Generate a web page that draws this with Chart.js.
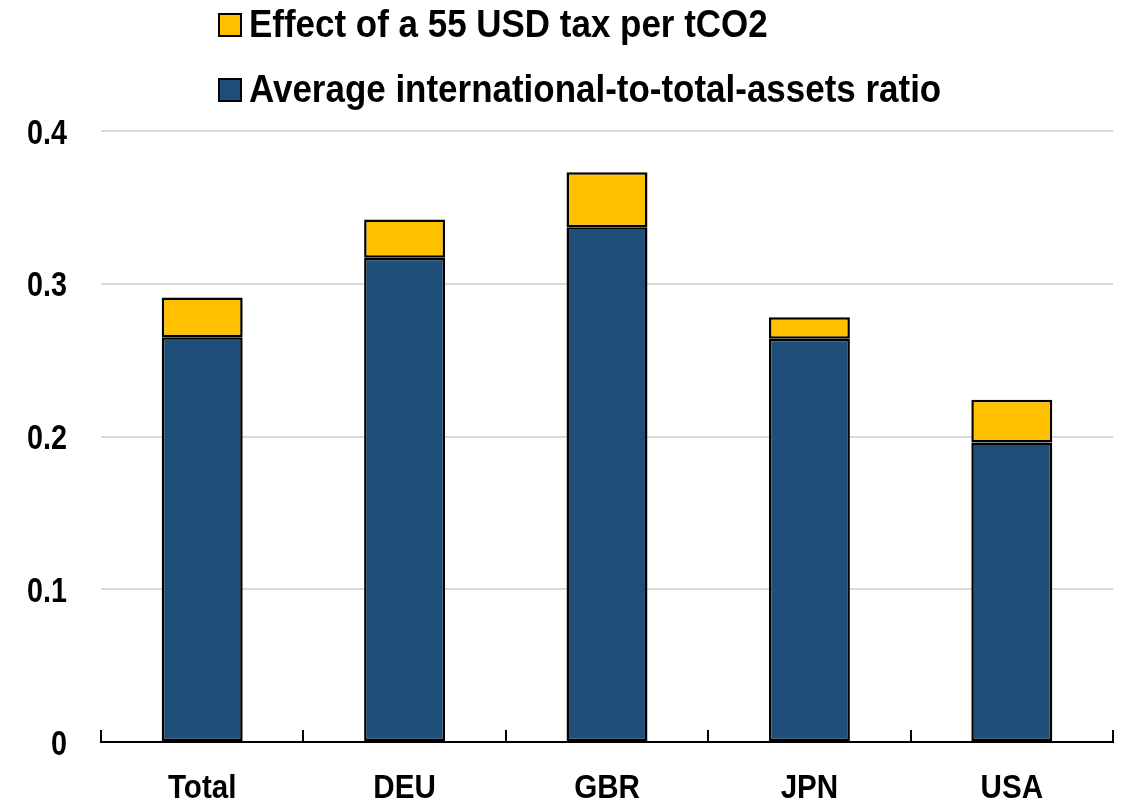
<!DOCTYPE html>
<html>
<head>
<meta charset="utf-8">
<script src="https://cdn.jsdelivr.net/npm/chart.js@4/dist/chart.umd.min.js"></script>
<style>
  html, body { margin: 0; padding: 0; background: #ffffff; }
  #wrap { position: relative; width: 1127px; height: 804px; }
  canvas { position: absolute; left: 0; top: 0; }
  .legend { position: absolute; left: 0; top: 0; width: 1127px; height: 110px;
            font-family: "Liberation Sans", Arial, sans-serif; font-weight: bold;
            font-size: 38px; line-height: 38px; color: #000; }
  .swatch { position: absolute; left: 218px; width: 20px; height: 20px;
            border: 2px solid #000; box-sizing: content-box; }
  .label { position: absolute; left: 249px; white-space: nowrap;
           transform: scaleX(0.92); transform-origin: 0 50%; }
</style>
</head>
<body>
<div id="wrap">
  <canvas id="chart" width="1127" height="804"></canvas>
  <div class="legend" id="legend"></div>
</div>
<script>
// Categories and series
const categories = ["Total", "DEU", "GBR", "JPN", "USA"];
const avgRatio = [0.265, 0.317, 0.337, 0.264, 0.196];
const taxEffect = [0.026, 0.025, 0.036, 0.014, 0.028];
const yTicks = [0, 0.1, 0.2, 0.3, 0.4];
const yTickLabels = ["0", "0.1", "0.2", "0.3", "0.4"];

const seriesNames = {
  avg: "Average international-to-total-assets ratio",
  tax: "Effect of a 55 USD tax per tCO2"
};
const colors = { avg: "#1f4e79", tax: "#ffc000" };
const FONT = '"Liberation Sans", Arial, sans-serif';

// Legend: tax effect first, average ratio second
const legendEl = document.getElementById("legend");
[["tax", 13, 5], ["avg", 78, 70]].forEach(([key, boxTop, textTop]) => {
  const sw = document.createElement("div");
  sw.className = "swatch";
  sw.style.top = boxTop + "px";
  sw.style.background = colors[key];
  const tx = document.createElement("div");
  tx.className = "label";
  tx.style.top = textTop + "px";
  tx.textContent = seriesNames[key];
  legendEl.appendChild(sw);
  legendEl.appendChild(tx);
});

// Axis decorations: upward tick marks at category boundaries and
// condensed bold tick labels placed from the scales' own pixel positions
const axisDecor = {
  id: "axisDecor",
  afterDraw(chart) {
    const ctx = chart.ctx;
    const x = chart.scales.x;
    const y = chart.scales.y;
    const bottom = chart.chartArea.bottom;
    const step = x.getPixelForValue(1) - x.getPixelForValue(0);

    ctx.save();
    ctx.strokeStyle = "#000";
    ctx.lineWidth = 2;
    ctx.beginPath();
    for (let i = 0; i <= categories.length; i++) {
      const px = Math.round(x.getPixelForValue(0) - step / 2 + i * step);
      ctx.moveTo(px, bottom);
      ctx.lineTo(px, bottom - 12);
    }
    ctx.stroke();

    ctx.fillStyle = "#000";
    ctx.textBaseline = "alphabetic";

    // category labels
    ctx.font = "bold 34px " + FONT;
    ctx.textAlign = "center";
    categories.forEach((c, i) => {
      ctx.save();
      ctx.translate(x.getPixelForValue(i), bottom + 56);
      ctx.scale(0.87, 1);
      ctx.fillText(c, 0, 0);
      ctx.restore();
    });

    // value labels
    ctx.font = "bold 35px " + FONT;
    ctx.textAlign = "right";
    yTicks.forEach((v, i) => {
      ctx.save();
      ctx.translate(chart.chartArea.left - 34, y.getPixelForValue(v) + 12.5);
      ctx.scale(0.82, 1);
      ctx.fillText(yTickLabels[i], 0, 0);
      ctx.restore();
    });
    ctx.restore();
  }
};

new Chart(document.getElementById("chart"), {
  type: "bar",
  data: {
    labels: categories,
    datasets: [
      {
        label: seriesNames.avg,
        data: avgRatio,
        backgroundColor: colors.avg,
        borderColor: "#000",
        borderWidth: 2.5,
        borderSkipped: false,
        barPercentage: 0.4,
        categoryPercentage: 1
      },
      {
        label: seriesNames.tax,
        data: taxEffect,
        backgroundColor: colors.tax,
        borderColor: "#000",
        borderWidth: 2.5,
        borderSkipped: false,
        barPercentage: 0.4,
        categoryPercentage: 1
      }
    ]
  },
  options: {
    responsive: false,
    devicePixelRatio: 1,
    animation: false,
    layout: { padding: { top: 131, left: 101, right: 14, bottom: 62 } },
    plugins: {
      legend: { display: false },
      tooltip: { enabled: false }
    },
    scales: {
      x: {
        stacked: true,
        grid: { display: false, drawTicks: false },
        border: { display: true, color: "#000", width: 2 },
        ticks: { display: false }
      },
      y: {
        stacked: true,
        min: 0,
        max: 0.4,
        afterBuildTicks(scale) {
          scale.ticks = yTicks.map(v => ({ value: v }));
        },
        grid: {
          color: ctx => (ctx.tick && ctx.tick.value === 0 ? "rgba(0,0,0,0)" : "#d9d9d9"),
          lineWidth: 2,
          drawTicks: false
        },
        border: { display: false },
        ticks: { display: false }
      }
    }
  },
  plugins: [axisDecor]
});
</script>
</body>
</html>
